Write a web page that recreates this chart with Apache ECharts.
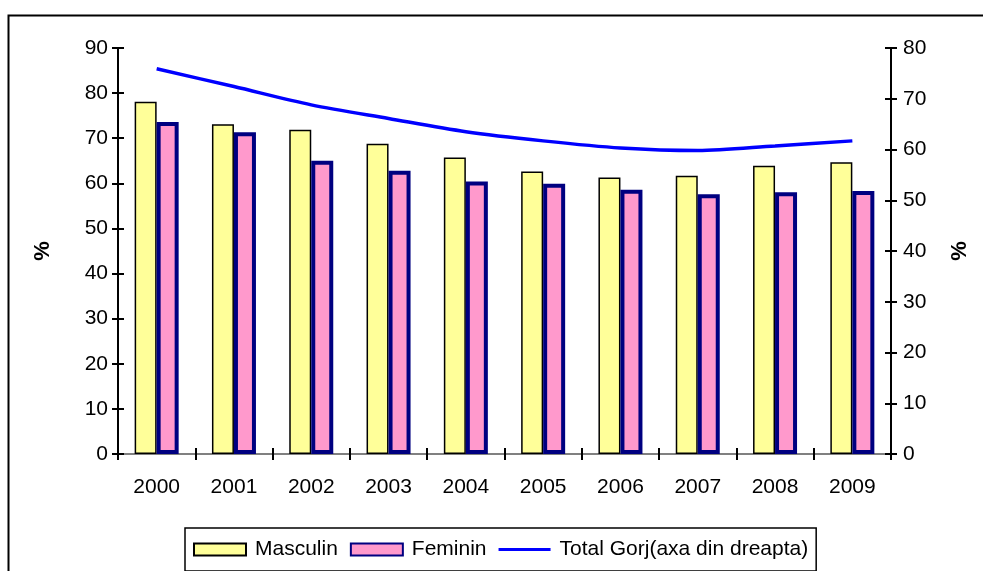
<!DOCTYPE html>
<html>
<head>
<meta charset="utf-8">
<script src="https://cdn.jsdelivr.net/npm/echarts@6/dist/echarts.min.js"></script>
<style>
  html, body { margin: 0; padding: 0; background: #fff; }
  #chart { width: 983px; height: 571px; }
</style>
</head>
<body>
<div id="chart"></div>
<script>
const years = ["2000", "2001", "2002", "2003", "2004", "2005", "2006", "2007", "2008", "2009"];
const masculin = [78.1, 73.1, 71.9, 68.8, 65.7, 62.6, 61.3, 61.7, 63.9, 64.7];
const feminin = [73.6, 71.3, 65.0, 62.8, 60.4, 59.9, 58.6, 57.6, 58.0, 58.3];
const totalGorj = [75.9, 72.4, 68.8, 66.1, 63.5, 61.7, 60.3, 59.8, 60.7, 61.7];

const FONT = "Liberation Sans, Arial, sans-serif";
const chart = echarts.init(document.getElementById("chart"));

const leftAxis = {
  type: "value", min: 0, max: 90, interval: 10, position: "left",
  axisLine: { show: true, lineStyle: { color: "#000", width: 2 } },
  axisTick: { show: true, length: 6, lineStyle: { color: "#000", width: 2 } },
  axisLabel: { color: "#000", fontSize: 21, fontFamily: FONT, margin: 10 },
  splitLine: { show: false },
  name: "%", nameLocation: "middle", nameGap: 64, nameRotate: 90,
  nameTextStyle: { color: "#000", fontSize: 22, fontWeight: "bold", fontFamily: FONT }
};
const rightAxis = {
  type: "value", min: 0, max: 80, interval: 10, position: "right",
  axisLine: { show: true, lineStyle: { color: "#000", width: 2 } },
  axisTick: { show: true, length: 6, lineStyle: { color: "#000", width: 2 } },
  axisLabel: { color: "#000", fontSize: 21, fontFamily: FONT, margin: 12 },
  splitLine: { show: false },
  name: "%", nameLocation: "middle", nameGap: 58, nameRotate: 90,
  nameTextStyle: { color: "#000", fontSize: 22, fontWeight: "bold", fontFamily: FONT }
};
// inner halves of the crossing ticks
const innerTicks = (base) => Object.assign({}, base, {
  name: "", axisLabel: { show: false }, axisLine: { show: false },
  axisTick: { show: true, inside: true, length: 6, lineStyle: { color: "#000", width: 2 } }
});

// thin bar inside a 52x12 box, so the legend shows a plain line
const lineIcon = "path://M0,0L0.01,0L0.01,0.01L0,0.01ZM0,4.5L52,4.5L52,7.5L0,7.5ZM51.99,11.99L52,11.99L52,12L51.99,12Z";

chart.setOption({
  animation: false,
  backgroundColor: "#fff",
  graphic: [{
    type: "rect", left: 6, top: 13, z: 100,
    shape: { width: 1000, height: 600 },
    style: { fill: null, stroke: "#000", lineWidth: 2 }
  }],
  grid: { left: 118, right: 92, top: 48, bottom: 117 },
  legend: {
    left: 185, top: 528,
    padding: [11, 8, 11, 8],
    itemGap: 12,
    itemWidth: 52, itemHeight: 12,
    borderColor: "#000", borderWidth: 1.5,
    textStyle: { color: "#000", fontSize: 21, fontFamily: FONT, padding: [0, 0, 0, 4] },
    data: [
      { name: "Masculin", icon: "rect" },
      { name: "Feminin", icon: "rect" },
      { name: "Total Gorj(axa din dreapta)", icon: lineIcon, itemStyle: { color: "#0000FF", borderWidth: 0 } }
    ]
  },
  xAxis: [{
    type: "category", data: years, position: "bottom",
    axisLine: { show: true, lineStyle: { color: "#000", width: 2 } },
    axisTick: { show: true, length: 6, lineStyle: { color: "#000", width: 2 } },
    axisLabel: { color: "#000", fontSize: 21, fontFamily: FONT, margin: 23 },
    splitLine: { show: false }
  }, {
    type: "category", data: years, position: "top",
    axisLine: { show: true, lineStyle: { color: "#808080", width: 2 } },
    axisTick: { show: false }, axisLabel: { show: false }
  }, {
    type: "category", data: years, position: "bottom",
    axisLine: { show: false }, axisLabel: { show: false },
    axisTick: { show: true, inside: true, length: 6, lineStyle: { color: "#000", width: 2 } }
  }],
  yAxis: [leftAxis, rightAxis, innerTicks(leftAxis), innerTicks(rightAxis)],
  series: [{
    name: "Masculin", type: "bar", data: masculin,
    barWidth: 22, barGap: "0%",
    itemStyle: { color: "#FFFF99", borderColor: "#000", borderWidth: 1.5 }
  }, {
    name: "Feminin", type: "bar", data: feminin,
    barWidth: 22, barGap: "0%",
    itemStyle: { color: "#FF99CC", borderColor: "#000080", borderWidth: 4 }
  }, {
    name: "Total Gorj(axa din dreapta)", type: "line", yAxisIndex: 1,
    data: totalGorj, symbol: "none", smooth: 0.3,
    lineStyle: { color: "#0000FF", width: 3.5 },
    itemStyle: { color: "#0000FF" }
  }]
});
</script>
</body>
</html>
